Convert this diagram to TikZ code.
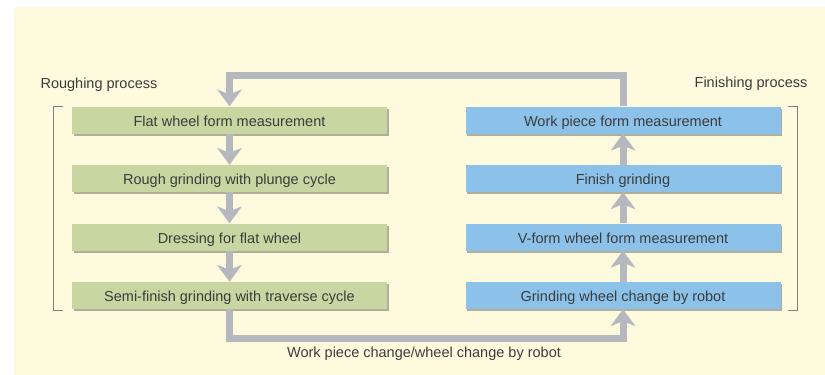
\documentclass[tikz,border=0pt]{standalone}
\usepackage{fontspec}
\setmainfont{Liberation Sans}
\usetikzlibrary{arrows.meta,shadows}

\definecolor{cream}{HTML}{FEFADE}
\definecolor{roughgreen}{HTML}{C8D6A2}
\definecolor{finishblue}{HTML}{8CC2EA}
\definecolor{flowgray}{HTML}{B6B8C0}
\definecolor{textgray}{HTML}{3C3C3C}

\tikzset{
	stepbox/.style = {minimum width=315pt, minimum height=27pt, inner sep=0pt,
		text height=12.5pt, text depth=0.5pt, text=textgray,
		drop shadow={shadow xshift=1.5pt, shadow yshift=-2pt, opacity=0.3, fill=black}},
	roughbox/.style = {stepbox, fill=roughgreen},
	finishbox/.style = {stepbox, fill=finishblue},
	flow/.style = {flowgray, line width=7pt,
		-{Stealth[length=17pt,width=25pt,inset=5pt,line width=0pt]}},
	bracket/.style = {gray, line width=0.8pt}
}

\begin{document}
\begin{tikzpicture}[
			x = 1pt, y = -1pt,
			every node/.style = {font=\fontsize{14.5}{17}\selectfont, text=textgray}
			]

			\useasboundingbox (0,0) rectangle (825,375);
			\fill[white] (0,0) rectangle (825,375);
			\fill[cream] (14,7) rectangle (825,375);

			\node[anchor=west] (roughing) at (37,85) {Roughing process};
			\node[anchor=east] (finishing) at (811,84) {Finishing process};

			\node[roughbox] (g1) at (229.5,120) {Flat wheel form measurement};
			\node[roughbox] (g2) at (229.5,178.5) {Rough grinding with plunge cycle};
			\node[roughbox] (g3) at (229.5,237) {Dressing for flat wheel};
			\node[roughbox] (g4) at (229.5,295.5) {Semi-finish grinding with traverse cycle};

			\node[finishbox] (b1) at (623,120) {Work piece form measurement};
			\node[finishbox] (b2) at (623,178.5) {Finish grinding};
			\node[finishbox] (b3) at (623,237) {V-form wheel form measurement};
			\node[finishbox] (b4) at (623,295.5) {Grinding wheel change by robot};

			\draw[bracket] (63,106) -- (53,106) -- (53,310.5) -- (63,310.5);
			\draw[bracket] (788,106) -- (797.5,106) -- (797.5,310.5) -- (788,310.5);

			\draw[flow] (g1) -- (g2);
			\draw[flow] (g2) -- (g3);
			\draw[flow] (g3) -- (g4);

			\draw[flow] (b4) -- (b3);
			\draw[flow] (b3) -- (b2);
			\draw[flow] (b2) -- (b1);

			\coordinate (top) at (426,75);
			\coordinate (bot) at (426,338.5);
			\draw[flow] (b1.north) -- (b1.north |- top) -- (g1.north |- top) -- (g1.north);
			\draw[flow] (g4.south) -- (g4.south |- bot) -- (b4.south |- bot) -- (b4.south);

			\node (robot) at (424,354) {Work piece change/wheel change by robot};

		\end{tikzpicture}
\end{document}
